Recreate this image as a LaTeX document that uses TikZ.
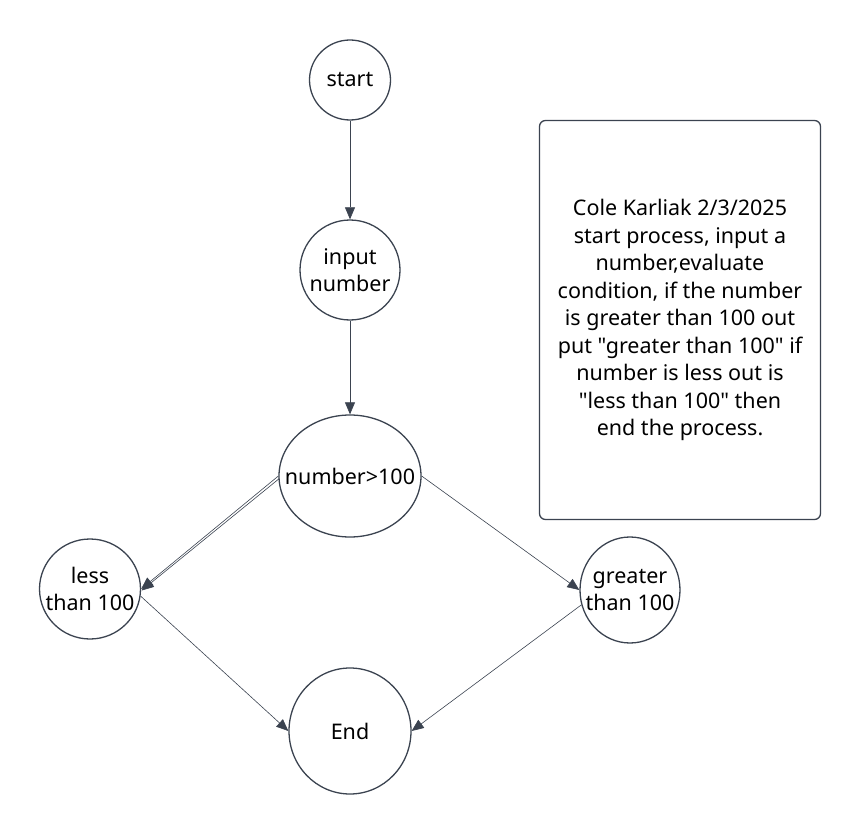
\documentclass[tikz,border=0pt]{standalone}
\usepackage{fontspec}
\setmainfont{Noto Sans}[Ligatures=TeXOff]
\usetikzlibrary{positioning,shapes.geometric,arrows.meta}
\definecolor{linegray}{HTML}{3B4350}

\tikzset{
  flow/.style={ellipse, draw=linegray, line width=1.3pt, inner sep=0pt},
  flowtext/.style={align=center, inner sep=0pt, font=\fontsize{21.5}{27}\selectfont},
  link/.style={draw=linegray, line width=0.6pt, -{Triangle[length=12pt,width=10pt]}},
  notebox/.style={rectangle, draw=linegray, line width=1.3pt, rounded corners=6pt,
    minimum width=281pt, minimum height=399pt, align=center,
    font=\fontsize{21.5}{27.5}\selectfont},
}

\begin{document}
\begin{tikzpicture}[x=1pt,y=-1pt]
  \useasboundingbox (0,0) rectangle (860,840);

  % flow nodes
  \node[flow, minimum width=81pt, minimum height=80pt,
    label={[flowtext]center:start}] (start) at (350,80) {};
  \node[flow, minimum width=100pt, minimum height=100pt,
    label={[flowtext]center:input\\number}] (input) at (350,270) {};
  \node[flow, minimum width=142pt, minimum height=122pt,
    label={[flowtext]center:number>100}] (cond) at (350,476) {};
  \node[flow, minimum width=101pt, minimum height=100pt,
    label={[flowtext]center:less\\than 100}] (less) at (90,589) {};
  \node[flow, minimum width=100pt, minimum height=106pt,
    label={[flowtext]center:greater\\than 100}] (greater) at (630,590) {};
  \node[flow, minimum width=122pt, minimum height=126pt,
    label={[flowtext]center:End}] (end) at (350,731) {};

  % note
  \node[notebox] (note) at (680,320) {Cole Karliak 2/3/2025\\start process, input a\\number,evaluate\\condition, if the number\\is greater than 100 out\\put "greater than 100" if\\number is less out is\\"less than 100" then\\end the process.};

  % connectors
  \draw[link] (start) -- (input);
  \draw[link] (input) -- (cond);
  \draw[link] (cond.west) -- (less.east);
  \draw[link] ([shift={(1,2.5)}]cond.west) -- ([shift={(0.5,1.5)}]less.east);
  \draw[link] (cond.east) -- (greater.west);
  \draw[link] (less.-8) -- (end.west);
  \draw[link] (greater.197) -- (end.east);

\end{tikzpicture}
\end{document}
